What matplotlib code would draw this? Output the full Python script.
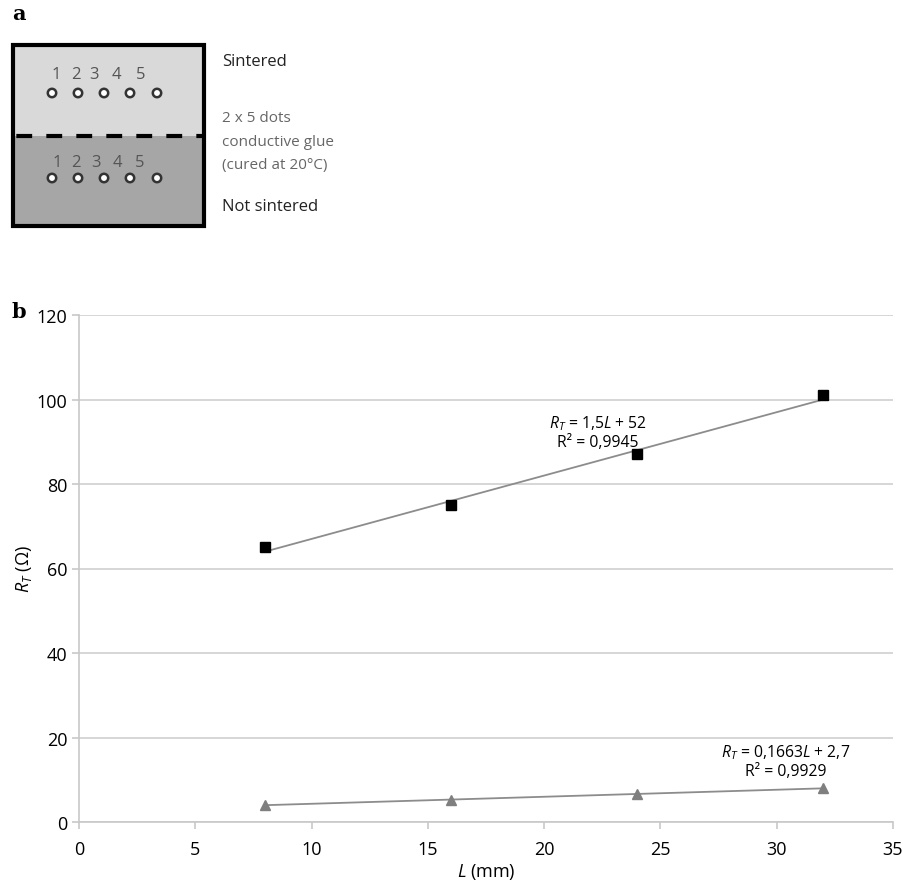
import matplotlib
matplotlib.use("Agg")
import matplotlib.pyplot as plt
import numpy as np
from matplotlib.patches import Rectangle, Circle

plt.rcParams["mathtext.fontset"] = "custom"
plt.rcParams["mathtext.rm"] = "Open Sans"
plt.rcParams["mathtext.it"] = "Open Sans:italic"

L_mm = [8, 16, 24, 32]
R_sintered = [65, 75, 87, 101]
R_not_sintered = [4.0, 5.3, 6.6, 8.0]
x_ticks = [0, 5, 10, 15, 20, 25, 30, 35]
y_ticks = [0, 20, 40, 60, 80, 100, 120]
dot_labels = ["1", "2", "3", "4", "5"]

W, H = 904, 887
fig = plt.figure(figsize=(W / 100, H / 100), dpi=100)

# ---- Panel a drawing (pixel coordinates)
axd = fig.add_axes([0, 0, 1, 1])
axd.set_xlim(0, W)
axd.set_ylim(H, 0)
axd.axis("off")
axd.text(12, 14, "a", fontsize=15, fontweight="bold", family="DejaVu Serif", va="center", ha="left")
axd.text(12, 312, "b", fontsize=15, fontweight="bold", family="DejaVu Serif", va="center", ha="left")

axd.add_patch(Rectangle((13, 46), 191, 91, facecolor="#d9d9d9", edgecolor="none"))
axd.add_patch(Rectangle((13, 137), 191, 90, facecolor="#a6a6a6", edgecolor="none"))
axd.add_patch(Rectangle((13, 46), 191, 181, facecolor="none", edgecolor="black", lw=3))
axd.plot([13, 204], [137, 137], color="black", lw=3, ls=(-0.8, (3.8, 3.4)))

dot_x = [52, 78, 104, 130, 157]
lab_x_top = [56, 76, 94, 116, 141]
lab_x_bot = [57, 76, 96, 117, 140]
for row_y, lab_y, labx in [(94, 75, lab_x_top), (179, 163, lab_x_bot)]:
    for dx, lx, t in zip(dot_x, labx, dot_labels):
        axd.add_patch(Circle((dx, row_y), 4.2, facecolor="white", edgecolor="#333333", lw=1.8))
        axd.text(lx, lab_y, t, fontsize=12, color="#555555", ha="center", va="center", family="Open Sans")

axd.text(222, 62, "Sintered", fontsize=12, color="#222222", va="center", family="Open Sans")
axd.text(222, 119, "2 x 5 dots", fontsize=11, color="#666666", va="center", family="Open Sans")
axd.text(222, 143, "conductive glue", fontsize=11, color="#666666", va="center", family="Open Sans")
axd.text(222, 165, "(cured at 20°C)", fontsize=11, color="#666666", va="center", family="Open Sans")
axd.text(222, 207, "Not sintered", fontsize=12, color="#222222", va="center", family="Open Sans")

# ---- Panel b chart
left, right, top, bottom = 79, 893, 316, 823
ax = fig.add_axes([left / W, (H - bottom) / H, (right - left) / W, (bottom - top) / H])
ax.set_xlim(0, 35)
ax.set_ylim(0, 120)
ax.set_xticks(x_ticks)
ax.set_yticks(y_ticks)
ax.yaxis.grid(True, color="#d0d0d0", lw=1.2)
ax.set_axisbelow(True)
for s in ["top", "right"]:
    ax.spines[s].set_visible(False)
for s in ["left", "bottom"]:
    ax.spines[s].set_color("#c8c8c8")
    ax.spines[s].set_linewidth(1.2)
ax.tick_params(axis="both", colors="#c8c8c8", labelcolor="black", labelsize=13, length=5, width=1.2)
ax.tick_params(axis="x", direction="out", pad=8)
for lbl in ax.get_xticklabels() + ax.get_yticklabels():
    lbl.set_family("Open Sans")

x = np.array(L_mm, dtype=float)
for yv, mk, col, ms in [(R_sintered, "s", "black", 7.5), (R_not_sintered, "^", "#7f7f7f", 7)]:
    yv = np.array(yv, dtype=float)
    p = np.polyfit(x, yv, 1)
    ax.plot(x, np.polyval(p, x), color="#8c8c8c", lw=1.3, zorder=2)
    ax.plot(x, yv, ls="none", marker=mk, color=col, ms=ms, zorder=3, clip_on=False)

ax.text(22.3, 92.4, "$R_T$ = 1,5$L$ + 52\nR² = 0,9945", fontsize=11.3, ha="center", va="center",
        family="Open Sans", linespacing=1.2)
ax.text(30.4, 14.5, "$R_T$ = 0,1663$L$ + 2,7\nR² = 0,9929", fontsize=11.3, ha="center", va="center",
        family="Open Sans", linespacing=1.2)

ax.set_xlabel("$L$ (mm)", fontsize=13, family="Open Sans", labelpad=2)
ax.set_ylabel("$R_T$ (Ω)", fontsize=13, family="Open Sans", labelpad=2)
fig.savefig("out.png", dpi=100)
